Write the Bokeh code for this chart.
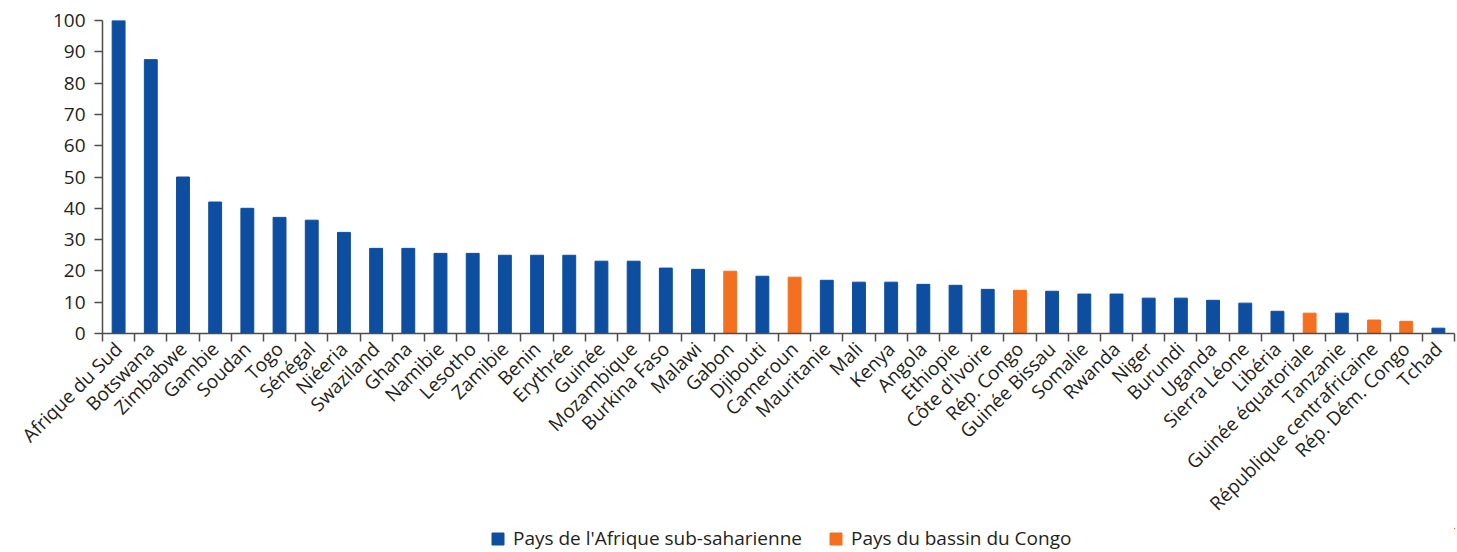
import math
from bokeh.plotting import figure
from bokeh.layouts import column
from bokeh.models import (FixedTicker, CustomJSTickFormatter, Range1d, Legend, LegendItem)
from bokeh.embed import file_html
from bokeh.resources import INLINE

countries = ["Afrique du Sud", "Botswana", "Zimbabwe", "Gambie", "Soudan", "Togo", "Sénégal",
             "Niéeria", "Swaziland", "Ghana", "Namibie", "Lesotho", "Zamibie", "Benin",
             "Erythrée", "Guinée", "Mozambique", "Burkina Faso", "Malawi", "Gabon", "Djibouti",
             "Cameroun", "Mauritanie", "Mali", "Kenya", "Angola", "Ethiopie", "Côte d'Ivoire",
             "Rép. Congo", "Guinée Bissau", "Somalie", "Rwanda", "Niger", "Burundi", "Uganda",
             "Sierra Léone", "Libéria", "Guinée équatoriale", "Tanzanie",
             "République centrafricaine", "Rép. Dém. Congo", "Tchad"]
values = [100, 87.5, 50, 42, 40, 37.1, 36.2, 32.3, 27.2, 27.2, 25.6, 25.6, 25, 25,
          25, 23.1, 23.1, 20.9, 20.5, 19.9, 18.3, 18.0, 17.0, 16.4, 16.4, 15.7, 15.4, 14.1,
          13.8, 13.5, 12.6, 12.6, 11.3, 11.3, 10.6, 9.7, 7.1, 6.5, 6.5, 4.3, 3.9, 1.7]
congo_basin = ["Gabon", "Cameroun", "Rép. Congo", "Guinée équatoriale",
               "République centrafricaine", "Rép. Dém. Congo"]
y_ticks = [0, 10, 20, 30, 40, 50, 60, 70, 80, 90, 100]
legend_labels = ["Pays de l'Afrique sub-saharienne", "Pays du bassin du Congo"]

BLUE = "#0D4EA0"
ORANGE = "#F37021"
TEXT = "#231F20"
AXIS = "#4D4D4D"
FONT = "Open Sans"

n = len(countries)
x_all = [i + 0.5 for i in range(n)]
xa = [x for x, c in zip(x_all, countries) if c not in congo_basin]
ya = [v for v, c in zip(values, countries) if c not in congo_basin]
xb = [x for x, c in zip(x_all, countries) if c in congo_basin]
yb = [v for v, c in zip(values, countries) if c in congo_basin]

p = figure(frame_width=1352, frame_height=313, output_backend="svg", toolbar_location=None,
           x_range=Range1d(0, n), y_range=Range1d(0, 100),
           min_border_left=102, min_border_right=3, min_border_top=20, min_border_bottom=0)
p.outline_line_color = None
p.xgrid.visible = False
p.ygrid.visible = False
p.background_fill_color = "white"

p.vbar(x=xa, top=ya, width=0.4, color=BLUE)
p.vbar(x=xb, top=yb, width=0.4, color=ORANGE)

# x axis
xaxis = p.xaxis[0]
xaxis.ticker = FixedTicker(ticks=x_all, minor_ticks=list(range(n + 1)))
xaxis.formatter = CustomJSTickFormatter(args=dict(names=countries),
                                        code="return names[Math.floor(tick)];")
xaxis.major_label_orientation = math.pi / 4
xaxis.major_tick_line_color = None
xaxis.minor_tick_line_color = AXIS
xaxis.minor_tick_out = 8
xaxis.minor_tick_in = 0
xaxis.minor_tick_line_width = 1.5
xaxis.axis_line_color = AXIS
xaxis.axis_line_width = 1.5
xaxis.major_label_text_font = FONT
xaxis.major_label_text_font_size = "19px"
xaxis.major_label_text_color = TEXT
xaxis.major_label_standoff = 4

# y axis
yaxis = p.yaxis[0]
yaxis.ticker = FixedTicker(ticks=y_ticks)
yaxis.minor_tick_line_color = None
yaxis.major_tick_line_color = AXIS
yaxis.major_tick_out = 8
yaxis.major_tick_in = 0
yaxis.major_tick_line_width = 1.5
yaxis.axis_line_color = AXIS
yaxis.axis_line_width = 1.5
yaxis.major_label_text_font = FONT
yaxis.major_label_text_font_size = "19px"
yaxis.major_label_text_color = TEXT
yaxis.major_label_standoff = 9

# legend strip below the chart (its bars lie far outside its visible ranges)
lf = figure(width=1457, height=26, output_backend="svg", toolbar_location=None,
            x_range=Range1d(-1000, -999), y_range=Range1d(-1000, -999), min_border=0)
lf.axis.visible = False
lf.grid.visible = False
lf.outline_line_color = None
g1 = lf.vbar(x=xa, top=ya, width=0.4, color=BLUE)
g2 = lf.vbar(x=xb, top=yb, width=0.4, color=ORANGE)
legend = Legend(items=[LegendItem(label=legend_labels[0], renderers=[g1]),
                       LegendItem(label=legend_labels[1], renderers=[g2])],
                orientation="horizontal", location=(388, 3))
legend.label_text_font = FONT
legend.label_text_font_size = "19px"
legend.label_text_color = TEXT
legend.label_height = 20
legend.glyph_width = 15
legend.glyph_height = 15
legend.label_standoff = 8
legend.spacing = 26
legend.border_line_color = None
legend.background_fill_alpha = 0
legend.padding = 0
legend.margin = 0
lf.add_layout(legend, "center")

layout = column(p, lf, spacing=0)
open("out.html", "w").write(file_html(layout, INLINE))
